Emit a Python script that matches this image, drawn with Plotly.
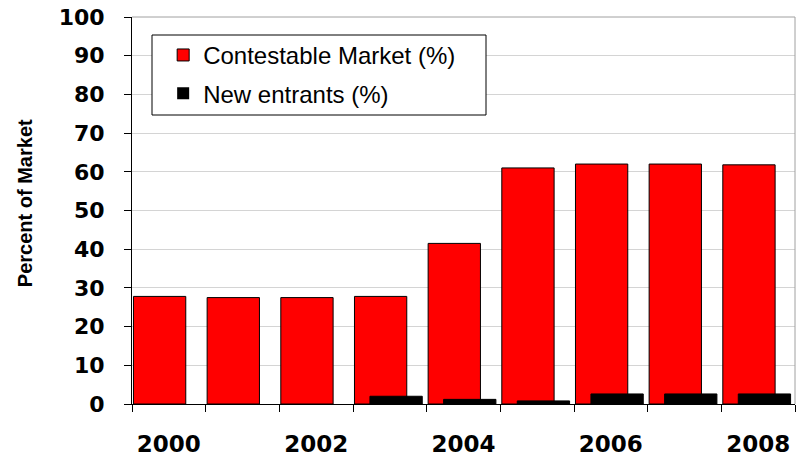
import plotly.graph_objects as go

years = ["2000", "2001", "2002", "2003", "2004", "2005", "2006", "2007", "2008"]
label_years = ["2000", "2002", "2004", "2006", "2008"]
contestable = [27.8, 27.5, 27.5, 27.8, 41.5, 61.0, 62.0, 62.0, 61.8]
new_entrants = [0.0, 0.0, 0.0, 2.0, 1.2, 0.8, 2.6, 2.6, 2.6]

FONT = "Liberation Sans, Arial, sans-serif"
TICKFONT = "DejaVu Sans, sans-serif"

xpos = list(range(len(years)))
label_pos = [years.index(y) for y in label_years]
boundaries = [i - 0.5 for i in range(len(years) + 1)]

fig = go.Figure()
fig.add_trace(go.Bar(
    x=xpos, y=contestable, name="Contestable Market (%)", legendgroup="a",
    marker=dict(color="#FF0000", line=dict(color="black", width=1)),
    width=0.71, offset=-0.48,
))
fig.add_trace(go.Bar(
    x=xpos, y=new_entrants, name="New entrants (%)", legendgroup="b",
    marker=dict(color="#000000",
                line=dict(color="black", width=[1 if v > 0 else 0 for v in new_entrants])),
    width=0.71, offset=-0.27,
))
# invisible trace to activate label axis
fig.add_trace(go.Scatter(x=label_pos, y=[None] * len(label_pos), xaxis="x2",
                         showlegend=False, hoverinfo="skip", mode="markers"))

fig.update_layout(
    width=798, height=456,
    margin=dict(l=132, r=3, t=17, b=52, autoexpand=False),
    barmode="overlay",
    plot_bgcolor="white", paper_bgcolor="white",
    showlegend=True,
    legend=dict(
        x=0.047, y=0.959, xanchor="left", yanchor="top",
        bgcolor="rgba(0,0,0,0)", borderwidth=0,
        font=dict(family=FONT, size=24, color="black"),
        traceorder="grouped", tracegroupgap=4,
    ),
    xaxis=dict(
        range=[-0.5, 8.5],
        tickvals=boundaries, ticktext=[""] * len(boundaries),
        ticks="outside", ticklen=7, tickcolor="black",
        showline=True, linecolor="black", linewidth=1,
        showgrid=False, zeroline=False, automargin=False,
    ),
    xaxis2=dict(
        overlaying="x", side="bottom", matches="x", range=[-0.5, 8.5],
        tickvals=label_pos, ticktext=label_years,
        ticks="", showline=False, showgrid=False, zeroline=False,
        ticklabelstandoff=24, automargin=False,
        tickfont=dict(family=TICKFONT, size=23, color="black", weight="bold"),
    ),
    yaxis=dict(
        range=[0, 100], dtick=10,
        ticks="outside", ticklen=7, tickcolor="black",
        showline=True, linecolor="black", linewidth=1,
        showgrid=True, gridcolor="#D4D4D4", gridwidth=1,
        tickfont=dict(family=TICKFONT, size=22, color="black", weight="bold"),
        ticklabelstandoff=15, automargin=False,
        zeroline=False,
    ),
    annotations=[dict(
        text="Percent of Market", textangle=-90,
        xref="paper", yref="paper", x=(25 - 132) / 663, y=0.519,
        xanchor="center", yanchor="middle", showarrow=False,
        font=dict(family=FONT, size=20, color="black", weight="bold"),
    )],
)

# plot-area border on top and right (gray)
fig.add_shape(type="line", xref="paper", yref="paper", x0=0, x1=1, y0=1, y1=1,
              line=dict(color="#A0A0A0", width=1))
fig.add_shape(type="line", xref="paper", yref="paper", x0=1, x1=1, y0=0, y1=1,
              line=dict(color="#A0A0A0", width=1))
# legend box
fig.add_shape(type="rect", xref="paper", yref="paper",
              x0=(152 - 132) / 663, x1=(486 - 132) / 663,
              y0=1 - (115 - 17) / 387, y1=1 - (35 - 17) / 387,
              fillcolor="white", line=dict(color="black", width=1), layer="above")

fig.write_html("out.html", config={"displayModeBar": False},
               post_script="document.body.style.margin='0';document.body.style.overflow='hidden';")
